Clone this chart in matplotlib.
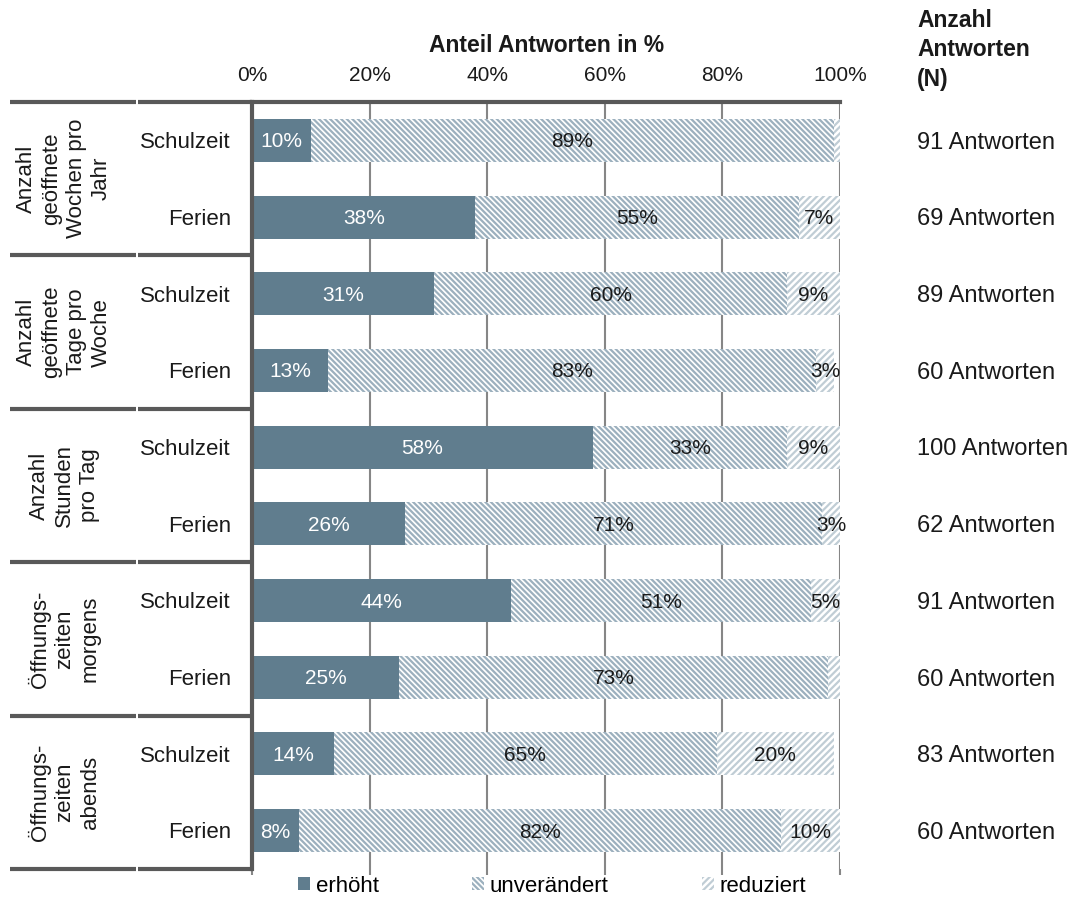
import matplotlib.pyplot as plt
import matplotlib.transforms as mtransforms
from matplotlib.patches import Patch
import numpy as np

plt.rcParams['font.family'] = ['Liberation Sans', 'DejaVu Sans']
plt.rcParams['hatch.linewidth'] = 1.6

groups = ["Anzahl\ngeöffnete\nWochen pro\nJahr",
          "Anzahl\ngeöffnete\nTage pro\nWoche",
          "Anzahl\nStunden\npro Tag",
          "Öffnungs-\nzeiten\nmorgens",
          "Öffnungs-\nzeiten\nabends"]
periods = ["Schulzeit", "Ferien"]
erhoeht = [10, 38, 31, 13, 58, 26, 44, 25, 14, 8]
unveraendert = [89, 55, 60, 83, 33, 71, 51, 73, 65, 82]
reduziert = [1, 7, 9, 3, 9, 3, 5, 2, 20, 10]
antworten = [91, 69, 89, 60, 100, 62, 91, 60, 83, 60]
xticks = [0, 20, 40, 60, 80, 100]

W, H = 1073, 909
fig = plt.figure(figsize=(W / 100, H / 100), dpi=100)
ax = fig.add_axes([252 / W, 40 / H, 588 / W, 767 / H])

dark = '#595959'
c_er = '#607d8e'
c_un = '#9cb0be'
c_re = '#c0cdd5'
h_un = '\\' * 6
h_re = '/' * 5

y = np.arange(len(erhoeht))
e = np.array(erhoeht)
u = np.array(unveraendert)
r = np.array(reduziert)

ax.barh(y, e, height=0.56, color=c_er, lw=0, zorder=2)
ax.barh(y, u, left=e, height=0.56, facecolor='white', edgecolor=c_un,
        hatch=h_un, lw=0, zorder=2)
ax.barh(y, r, left=e + u, height=0.56, facecolor='white', edgecolor=c_re,
        hatch=h_re, lw=0, zorder=2)

for i in range(len(y)):
    starts = [0, e[i], e[i] + u[i]]
    for k, v in enumerate([e[i], u[i], r[i]]):
        if v >= 3:
            ax.text(starts[k] + v / 2, y[i] + 0.02, f"{v}%", ha='center', va='center',
                    fontsize=15, color='white' if k == 0 else '#1a1a1a', zorder=3)

ax.set_xlim(0, 100)
ax.set_ylim(len(y) - 0.5, -0.5)
ax.set_xticks(xticks)
ax.set_xticklabels([f"{t}%" for t in xticks], fontsize=15)
ax.set_yticks([])
ax.tick_params(axis='x', top=False, labeltop=True, bottom=True, labelbottom=False,
               length=4.5, width=1.5, color='#868686', pad=8)
for t in ax.get_xticklabels():
    t.set_color('#1a1a1a')
ax.grid(axis='x', color='#868686', lw=1.5, zorder=0)
ax.spines['right'].set_visible(False)
ax.spines['bottom'].set_visible(False)
ax.spines['left'].set_color(dark)
ax.spines['left'].set_linewidth(3)
ax.spines['top'].set_color(dark)
ax.spines['top'].set_linewidth(3)

# group separators on the left, x in figure, y in data
trans = mtransforms.blended_transform_factory(fig.transFigure, ax.transData)
for b in np.arange(-0.5, len(y), 2):
    for x0, x1 in [(10 / W, 136 / W), (138 / W, 252 / W)]:
        ax.plot([x0, x1], [b, b], color=dark, lw=3, transform=trans,
                clip_on=False, solid_capstyle='butt')

for g, name in enumerate(groups):
    ax.text(64 / W, 2 * g + 0.5, name, rotation=90, ha='center', va='center',
            multialignment='center', fontsize=16, transform=trans, color='#1a1a1a',
            linespacing=1.25)
for i in range(len(y)):
    ax.text(231 / W, y[i] + 0.03, periods[i % 2], ha='right', va='center', fontsize=16,
            transform=trans, color='#1a1a1a')
    ax.text(917 / W, y[i] + 0.03, f"{antworten[i]} Antworten", ha='left', va='center',
            fontsize=17, transform=trans, color='#1a1a1a')

fig.text(547 / W, 1 - 45 / H, "Anteil Antworten in %", ha='center', va='center',
         fontsize=16.5, fontweight='bold', color='#1a1a1a')
fig.text(917 / W, 1 - 50 / H, "Anzahl\nAntworten\n(N)", ha='left', va='center',
         fontsize=16.5, fontweight='bold', color='#1a1a1a', linespacing=1.35)

handles = [Patch(facecolor=c_er, lw=0),
           Patch(facecolor='white', edgecolor=c_un, hatch=h_un, lw=0),
           Patch(facecolor='white', edgecolor=c_re, hatch=h_re, lw=0)]
fig.legend(handles, ['erhöht', 'unverändert', 'reduziert'], loc='center',
           bbox_to_anchor=(552 / W, 1 - 886 / H), ncol=3, frameon=False,
           fontsize=16, handlelength=0.55, handleheight=0.55, handletextpad=0.25,
           columnspacing=4.2)

fig.savefig('out.png', dpi=100)
